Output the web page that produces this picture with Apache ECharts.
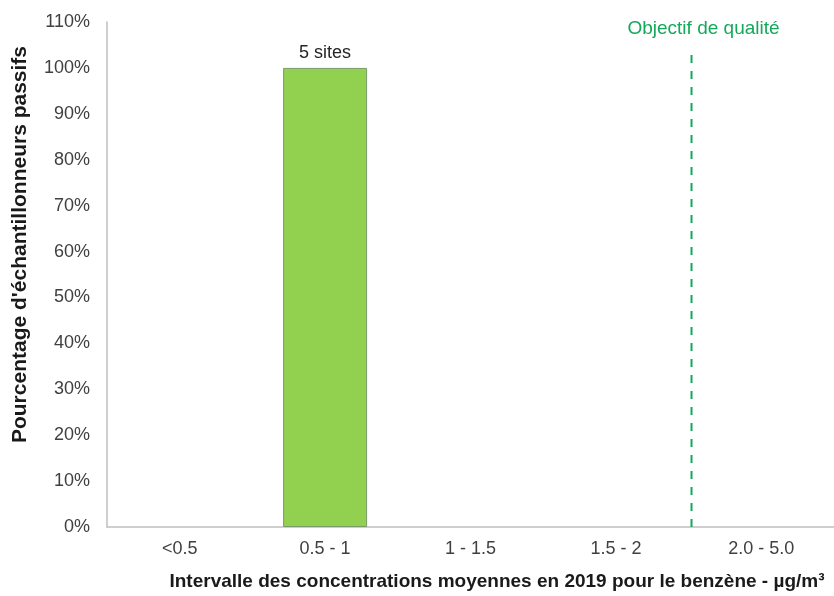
<!DOCTYPE html>
<html>
<head>
<meta charset="utf-8">
<script src="https://cdn.jsdelivr.net/npm/echarts@6/dist/echarts.min.js"></script>
<style>
  html, body { margin: 0; padding: 0; background: #ffffff; }
  #chart { width: 834px; height: 596px; }
</style>
</head>
<body>
<div id="chart"></div>
<script>
// Concentration classes (µg/m³)
const categories = ['<0.5', '0.5 - 1', '1 - 1.5', '1.5 - 2', '2.0 - 5.0'];
// Share of passive samplers in each class (%)
const percentages = [0, 100, 0, 0, 0];
// Number of sites in each class
const siteCounts = [0, 5, 0, 0, 0];
// Quality objective position along the class scale (class boundaries 0..5)
const objectivePosition = 4.02;
const objectiveSpan = [0, 103.3];
const yTicks = [0, 10, 20, 30, 40, 50, 60, 70, 80, 90, 100, 110];

const font = 'Liberation Sans, Arial, sans-serif';
const green = '#14a85a';

const chart = echarts.init(document.getElementById('chart'), null, { renderer: 'canvas' });

// Empty classes get no outline so they leave no mark on the axis
const barData = percentages.map(v => ({
  value: v,
  itemStyle: { borderWidth: v > 0 ? 1 : 0 }
}));

chart.setOption({
  animation: false,
  backgroundColor: '#ffffff',
  grid: { left: 107, right: 0, top: 22, bottom: 68, containLabel: false },
  xAxis: [
    {
      type: 'category',
      data: categories,
      axisLine: { lineStyle: { color: '#bfbfbf', width: 1.5 } },
      axisTick: { show: false },
      axisLabel: { color: '#404040', fontSize: 18, fontFamily: font, margin: 13 },
      name: 'Intervalle des concentrations moyennes en 2019 pour le benzène - µg/m³',
      nameLocation: 'middle',
      nameGap: 45,
      nameTextStyle: { color: '#1a1a1a', fontSize: 19, fontWeight: 'bold', fontFamily: font, padding: [0, 0, 0, 53] }
    },
    {
      type: 'value',
      min: 0,
      max: 5,
      show: false
    }
  ],
  yAxis: {
    type: 'value',
    min: yTicks[0],
    max: yTicks[yTicks.length - 1],
    interval: 10,
    axisLine: { show: true, lineStyle: { color: '#bfbfbf', width: 1.5 } },
    axisTick: { show: false },
    splitLine: { show: false },
    axisLabel: { color: '#404040', fontSize: 18, fontFamily: font, margin: 17, formatter: '{value}%' },
    name: "Pourcentage d'échantillonneurs passifs",
    nameLocation: 'middle',
    nameGap: 76,
    nameRotate: 90,
    nameTextStyle: { color: '#1a1a1a', fontSize: 21, fontWeight: 'bold', fontFamily: font, padding: [0, 0, 0, 60] }
  },
  series: [
    {
      type: 'bar',
      xAxisIndex: 0,
      data: barData,
      barWidth: 84,
      itemStyle: { color: '#92d050', borderColor: '#7a9a6a' },
      label: {
        show: true,
        position: 'top',
        distance: 6,
        color: '#262626',
        fontSize: 18,
        fontFamily: font,
        formatter: p => siteCounts[p.dataIndex] > 0 ? siteCounts[p.dataIndex] + ' sites' : ''
      }
    },
    {
      type: 'line',
      xAxisIndex: 1,
      data: [[objectivePosition, objectiveSpan[0]], [objectivePosition, objectiveSpan[1]]],
      symbol: 'none',
      lineStyle: { color: green, width: 2, type: [8, 8] },
      label: { show: false },
      endLabel: {
        show: true,
        formatter: 'Objectif de qualité',
        color: green,
        fontSize: 19,
        fontFamily: font,
        align: 'center',
        verticalAlign: 'bottom',
        offset: [4, -14]
      }
    }
  ]
});
</script>
</body>
</html>
